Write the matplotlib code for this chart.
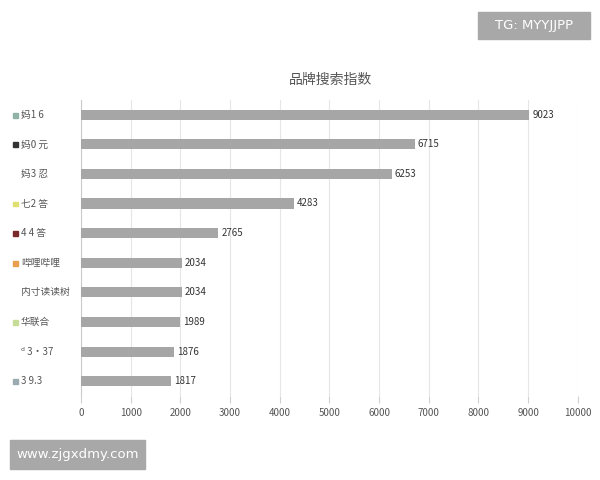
import matplotlib
matplotlib.use("Agg")
import matplotlib.pyplot as plt
from matplotlib.patches import Rectangle

plt.rcParams['font.family'] = ['Noto Sans CJK SC', 'DejaVu Sans']

# data, top to bottom
brands = ["妈1 6", "妈0 元", "妈3 忍", "七2 答", "4 4 答", "哔哩哔哩", "内寸读读树", "华联合", "ᵈ 3·37", "3 9.3"]
values = [9023, 6715, 6253, 4283, 2765, 2034, 2034, 1989, 1876, 1817]
marker_colors = ["#8fb3a8", "#333333", None, "#e0e070", "#7a2a2a", "#e8a050", None, "#c8dc9a", None, "#9aaab0"]
xticks = list(range(0, 10001, 1000))

fig = plt.figure(figsize=(6, 4.8), dpi=100)
fig.patch.set_facecolor("white")
ax = fig.add_axes([0.135, 0.175, 0.828, 0.617])

y = list(range(len(values)))
ax.barh(y, values, height=0.34, color="#a6a6a6", zorder=3)
for yi, v in zip(y, values):
    ax.text(v + 60, yi, str(v), va="center", ha="left", fontsize=7, color="#333333")

ax.set_ylim(len(values) - 0.5, -0.5)
ax.set_xlim(0, 10000)
ax.set_xticks(xticks)
ax.set_xticklabels([str(t) for t in xticks], fontsize=7, color="#555555")
ax.set_yticks([])
ax.grid(axis="x", color="#e6e6e6", linewidth=0.8, zorder=0)
for s in ["top", "right", "bottom"]:
    ax.spines[s].set_visible(False)
ax.spines["left"].set_color("#cccccc")
ax.tick_params(axis="x", length=5, color="#d0d0d0", pad=4)

# labels with small coloured squares on the left
for yi, name, c in zip(y, brands, marker_colors):
    fy = 1 - (114.8 + yi * 29.6) / 480
    if c:
        fig.patches.append(Rectangle((0.022, fy - 0.006), 0.008, 0.01,
                                     transform=fig.transFigure, color=c))
    fig.text(0.035, fy, name, va="center", ha="left", fontsize=7, color="#555555")

fig.text(0.55, 1 - 80 / 480, "品牌搜索指数", ha="center", va="center", fontsize=10, color="#555555")

# watermarks
fig.patches.append(Rectangle((478 / 600, 1 - 39 / 480), 112 / 600, 27 / 480,
                             transform=fig.transFigure, color="#a8a8a8"))
fig.text(534 / 600, 1 - 25.5 / 480, "TG: MYYJJPP", ha="center", va="center", fontsize=9.5,
         color="white", family="DejaVu Sans")
fig.patches.append(Rectangle((10 / 600, 1 - 469 / 480), 135 / 600, 29 / 480,
                             transform=fig.transFigure, color="#a8a8a8"))
fig.text(77.5 / 600, 1 - 454.5 / 480, "www.zjgxdmy.com", ha="center", va="center", fontsize=9.5,
         color="white", family="DejaVu Sans")

fig.savefig("out.png", dpi=100, facecolor="white")
